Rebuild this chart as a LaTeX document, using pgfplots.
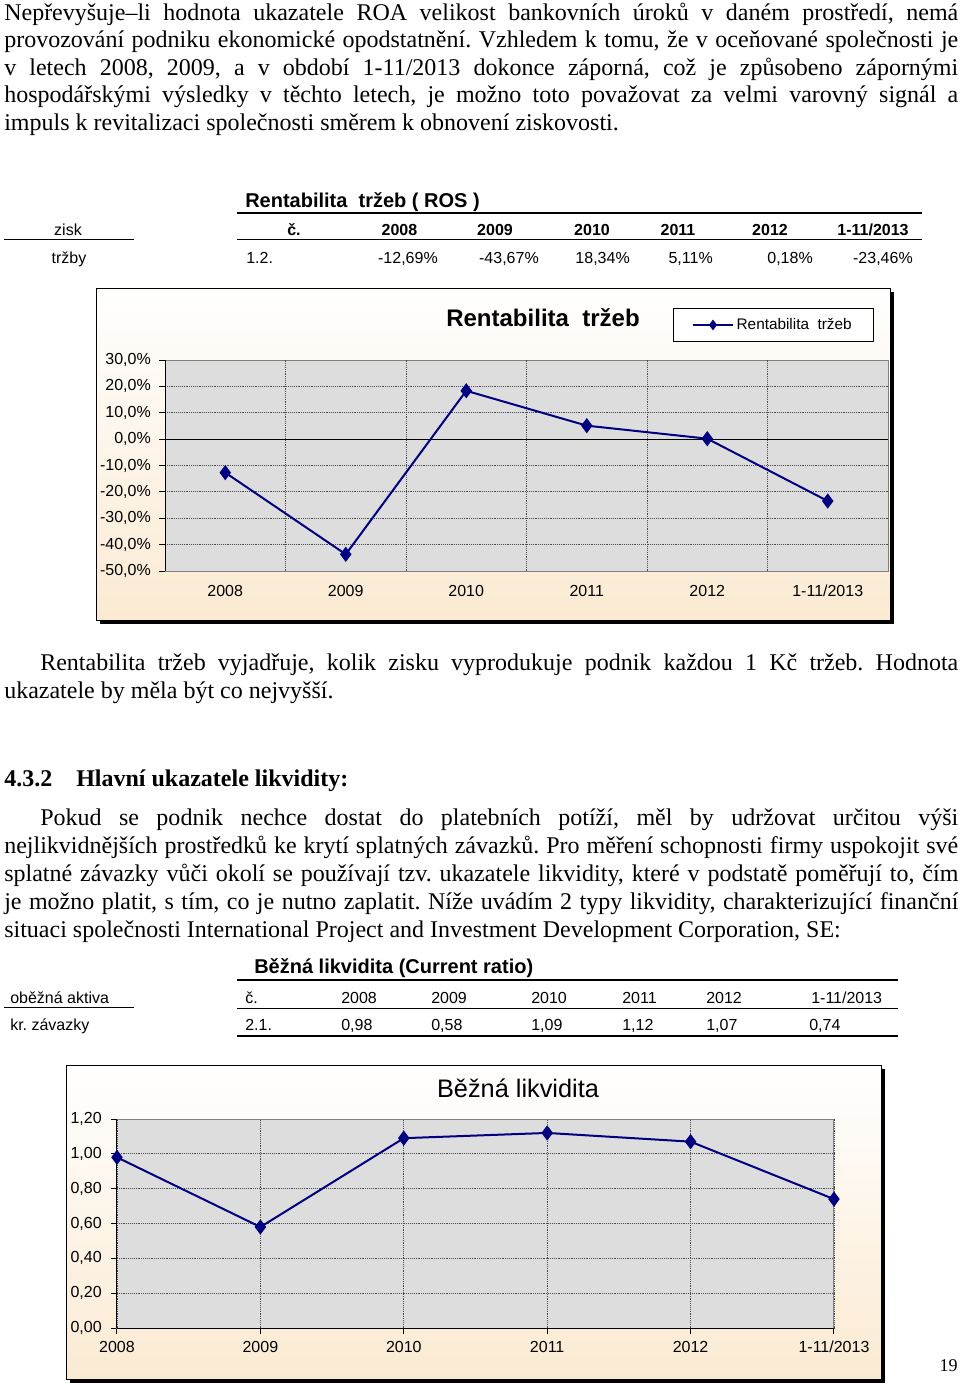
\documentclass[border=0pt]{standalone}
\usepackage{fontspec}
\setmainfont{Liberation Serif}
\newfontfamily\arial{Liberation Sans}
\usepackage{pgfplots}
\pgfplotsset{compat=1.18}
\definecolor{navy}{RGB}{0,0,128}
\definecolor{plotgrey}{RGB}{221,221,221}
\definecolor{peach}{RGB}{251,234,210}
\definecolor{peachmid}{RGB}{253,246,236}
\definecolor{bordergrey}{RGB}{128,128,128}
\newcommand\body{\fontsize{18}{21}\selectfont}
\newcommand\tab{\arial\fontsize{12}{14}\selectfont}
\frenchspacing
\begin{document}
\begin{tikzpicture}
\path[use as bounding box] (0,0) rectangle (720pt,-1038.75pt);
\begin{scope}[x=0.75pt,y=-0.75pt]
% ---------- paragraph 1
\node[anchor=base west,inner sep=0,font=\body] at (4,20) {\makebox[715.5pt][s]{Nepřevyšuje–li hodnota ukazatele ROA velikost bankovních úroků v~daném prostředí, nemá}};
\node[anchor=base west,inner sep=0,font=\body] at (4,47.6) {\makebox[715.5pt][s]{provozování podniku ekonomické opodstatnění. Vzhledem k tomu, že v oceňované společnosti je}};
\node[anchor=base west,inner sep=0,font=\body] at (4,75.2) {\makebox[715.5pt][s]{v~letech 2008, 2009, a v~období 1-11/2013 dokonce záporná, což je způsobeno zápornými}};
\node[anchor=base west,inner sep=0,font=\body] at (4,102.8) {\makebox[715.5pt][s]{hospodářskými výsledky v~těchto letech, je možno toto považovat za velmi varovný signál a}};
\node[anchor=base west,inner sep=0,font=\body] at (4,130.4) {impuls k revitalizaci společnosti směrem k obnovení ziskovosti.};
% ---------- table 1
\node[anchor=base west,inner sep=0,font=\arial\bfseries\fontsize{15}{17}\selectfont] at (245,207.5) {Rentabilita\ \ tržeb ( ROS )};
\draw[line width=1.5pt] (237,212.5) -- (922,212.5);
\draw[line width=0.75pt] (4,239.5) -- (134,239.5);
\draw[line width=0.5pt] (237,239.5) -- (922,239.5);
\node[anchor=base,inner sep=0,font=\tab] at (68,235) {zisk};
\node[anchor=base,inner sep=0,font=\tab\bfseries] at (294,235) {č.};
\node[anchor=base,inner sep=0,font=\tab\bfseries] at (399.5,235) {2008};
\node[anchor=base,inner sep=0,font=\tab\bfseries] at (495,235) {2009};
\node[anchor=base,inner sep=0,font=\tab\bfseries] at (592,235) {2010};
\node[anchor=base,inner sep=0,font=\tab\bfseries] at (678,235) {2011};
\node[anchor=base,inner sep=0,font=\tab\bfseries] at (770,235) {2012};
\node[anchor=base,inner sep=0,font=\tab\bfseries] at (873,235) {1-11/2013};
\node[anchor=base,inner sep=0,font=\tab] at (69,263) {tržby};
\node[anchor=base west,inner sep=0,font=\tab] at (246,263) {1.2.};
\node[anchor=base east,inner sep=0,font=\tab] at (438,263) {-12,69\%};
\node[anchor=base east,inner sep=0,font=\tab] at (539,263) {-43,67\%};
\node[anchor=base east,inner sep=0,font=\tab] at (630,263) {18,34\%};
\node[anchor=base east,inner sep=0,font=\tab] at (713,263) {5,11\%};
\node[anchor=base east,inner sep=0,font=\tab] at (813,263) {0,18\%};
\node[anchor=base east,inner sep=0,font=\tab] at (913,263) {-23,46\%};
% ---------- chart 1 frame
\fill[black] (100,292) rectangle (894,624);
\shade[top color=white, middle color=peachmid, bottom color=peach] (96,288) rectangle (890,620);
\draw[black, line width=0.75pt] (96,288) rectangle (890,620);
\node[font=\arial\bfseries\fontsize{18}{20}\selectfont, inner sep=0] at (543,318) {Rentabilita\ \ tržeb};
% ---------- paragraph 2
\node[anchor=base west,inner sep=0,font=\body] at (40,670) {\makebox[688.5pt][s]{Rentabilita tržeb vyjadřuje, kolik zisku vyprodukuje podnik každou 1 Kč tržeb. Hodnota}};
\node[anchor=base west,inner sep=0,font=\body] at (4,698) {ukazatele by měla být co nejvyšší.};
% ---------- heading
\node[anchor=base west,inner sep=0,font=\body\bfseries] at (4,786) {4.3.2};
\node[anchor=base west,inner sep=0,font=\body\bfseries] at (76,786) {Hlavní ukazatele likvidity:};
% ---------- paragraph 3
\node[anchor=base west,inner sep=0,font=\body] at (40,825) {\makebox[688.5pt][s]{Pokud se podnik nechce dostat do platebních potíží, měl by udržovat určitou výši}};
\node[anchor=base west,inner sep=0,font=\body] at (4,853) {\makebox[715.5pt][s]{nejlikvidnějších prostředků ke krytí splatných závazků. Pro měření schopnosti firmy uspokojit své}};
\node[anchor=base west,inner sep=0,font=\body] at (4,881) {\makebox[715.5pt][s]{splatné závazky vůči okolí se používají tzv. ukazatele likvidity, které v podstatě poměřují to, čím}};
\node[anchor=base west,inner sep=0,font=\body] at (4,909) {\makebox[715.5pt][s]{je možno platit, s tím, co je nutno zaplatit. Níže uvádím 2 typy likvidity, charakterizující finanční}};
\node[anchor=base west,inner sep=0,font=\body] at (4,937) {situaci společnosti International Project and Investment Development Corporation, SE:};
% ---------- table 2
\node[anchor=base west,inner sep=0,font=\arial\bfseries\fontsize{15}{17}\selectfont] at (254,973.5) {Běžná likvidita (Current ratio)};
\draw[line width=1.5pt] (237,980) -- (898,980);
\draw[line width=0.75pt] (4,1007.5) -- (134,1007.5);
\draw[line width=0.5pt] (237,1008.5) -- (898,1008.5);
\draw[line width=1.5pt] (237,1035.5) -- (898,1035.5);
\node[anchor=base west,inner sep=0,font=\tab] at (10,1003) {oběžná aktiva};
\node[anchor=base west,inner sep=0,font=\tab] at (245,1003) {č.};
\node[anchor=base west,inner sep=0,font=\tab] at (341,1003) {2008};
\node[anchor=base west,inner sep=0,font=\tab] at (431,1003) {2009};
\node[anchor=base west,inner sep=0,font=\tab] at (531,1003) {2010};
\node[anchor=base west,inner sep=0,font=\tab] at (622,1003) {2011};
\node[anchor=base west,inner sep=0,font=\tab] at (706,1003) {2012};
\node[anchor=base west,inner sep=0,font=\tab] at (811,1003) {1-11/2013};
\node[anchor=base west,inner sep=0,font=\tab] at (10,1030) {kr. závazky};
\node[anchor=base west,inner sep=0,font=\tab] at (245,1030) {2.1.};
\node[anchor=base west,inner sep=0,font=\tab] at (341,1030) {0,98};
\node[anchor=base west,inner sep=0,font=\tab] at (431,1030) {0,58};
\node[anchor=base west,inner sep=0,font=\tab] at (531,1030) {1,09};
\node[anchor=base west,inner sep=0,font=\tab] at (622,1030) {1,12};
\node[anchor=base west,inner sep=0,font=\tab] at (706,1030) {1,07};
\node[anchor=base west,inner sep=0,font=\tab] at (809,1030) {0,74};
% ---------- chart 2 frame
\fill[black] (70,1069) rectangle (885,1383);
\shade[top color=white, middle color=peachmid, bottom color=peach] (66,1065) rectangle (881,1379);
\draw[black, line width=0.75pt] (66,1065) rectangle (881,1379);
\node[font=\arial\fontsize{19}{21}\selectfont, inner sep=0] at (518,1088) {Běžná likvidita};
% page number
\node[anchor=base east,inner sep=0,font=\fontsize{13.5}{15}\selectfont] at (958,1371) {19};
\end{scope}
% ================= chart 1 axis
\begin{axis}[
  at={(123.75pt,-428.25pt)}, anchor=south west, scale only axis,
  width=542.25pt, height=158.25pt,
  xmin=-0.5, xmax=5.5, ymin=-50, ymax=30,
  clip=false,
  axis background/.style={fill=plotgrey},
  axis line style={draw=bordergrey, line width=0.75pt},
  xtick={0,...,5}, xticklabels={2008,2009,2010,2011,2012,1-11/2013},
  xtick style={draw=none},
  ytick={-50,-40,-30,-20,-10,0,10,20,30},
  yticklabels={{-50,0\%},{-40,0\%},{-30,0\%},{-20,0\%},{-10,0\%},{0,0\%},{10,0\%},{20,0\%},{30,0\%}},
  ytick pos=left, tick align=outside, major tick length=4.5pt,
  ytick style={black, line width=0.75pt},
  ymajorgrids,
  major grid style={densely dotted, black!70, line width=0.6pt},
  extra x ticks={0.5,1.5,2.5,3.5,4.5}, extra x tick labels={},
  extra x tick style={grid=major, tick style={draw=none}},
  ticklabel style={font=\arial\fontsize{12}{14}\selectfont, inner sep=0pt},
  xticklabel style={anchor=base, yshift=-14.25pt},
  yticklabel style={xshift=-6pt},
  legend style={at={(axis description cs:0.7026,1.2464)}, anchor=north west, draw=black, line width=0.5pt, fill=white,
    font=\arial\fontsize{11.5}{13}\selectfont, inner xsep=14pt, inner ysep=5.5pt},
  legend image code/.code={\draw[mark repeat=2,mark phase=2,#1, mark size=2.8pt] plot coordinates {(0pt,0pt)(15pt,0pt)(30pt,0pt)};},
]
\draw[black, line width=0.75pt] (axis cs:-0.5,0) -- (axis cs:5.5,0);
\draw[black, line width=0.75pt] (axis cs:-0.5,-50) -- (axis cs:-0.5,30);
\addplot[color=navy, line width=1.5pt, mark=diamond*, mark size=4.5pt, mark options={fill=navy, solid}]
  coordinates {(0,-12.69) (1,-43.67) (2,18.34) (3,5.11) (4,0.18) (5,-23.46)};
\addlegendentry{Rentabilita\ \ tržeb}
\end{axis}
% ================= chart 2 axis
\begin{axis}[
  at={(87.75pt,-996pt)}, anchor=south west, scale only axis,
  width=537.75pt, height=156.75pt,
  xmin=0, xmax=5, ymin=0, ymax=1.2,
  clip=false,
  axis background/.style={fill=plotgrey},
  axis line style={draw=bordergrey, line width=0.75pt},
  xtick={0,...,5}, xticklabels={2008,2009,2010,2011,2012,1-11/2013},
  ytick={0,0.2,0.4,0.6,0.8,1.0,1.2},
  yticklabels={{0,00},{0,20},{0,40},{0,60},{0,80},{1,00},{1,20}},
  xtick pos=bottom, ytick pos=left, tick align=outside, major tick length=4.5pt,
  tick style={black, line width=0.75pt},
  xmajorgrids, ymajorgrids,
  major grid style={densely dotted, black!70, line width=0.6pt},
  ticklabel style={font=\arial\fontsize{12}{14}\selectfont, inner sep=0pt},
  xticklabel style={anchor=base, yshift=-13.9pt},
  yticklabel style={xshift=-6.75pt},
]
\draw[black, line width=0.75pt] (axis cs:0,0) -- (axis cs:5,0);
\draw[black, line width=0.75pt] (axis cs:0,0) -- (axis cs:0,1.2);
\addplot[color=navy, line width=1.5pt, mark=diamond*, mark size=4.5pt, mark options={fill=navy, solid}]
  coordinates {(0,0.98) (1,0.58) (2,1.09) (3,1.12) (4,1.07) (5,0.74)};
\end{axis}
\end{tikzpicture}
\end{document}
